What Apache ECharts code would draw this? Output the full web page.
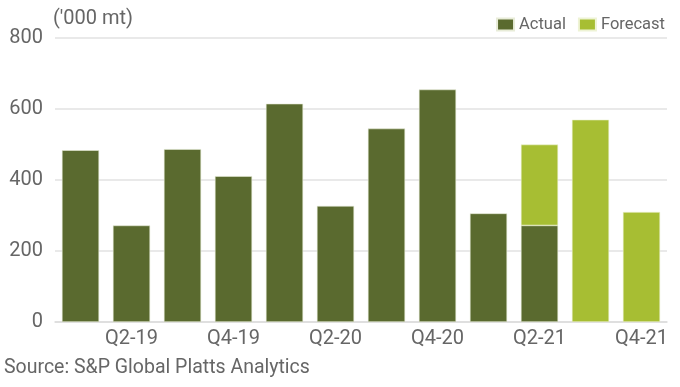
<!DOCTYPE html>
<html><head><meta charset="utf-8">
<script src="https://cdn.jsdelivr.net/npm/echarts@6/dist/echarts.min.js"></script>
<style>html,body{margin:0;padding:0;background:#fff}#c{width:680px;height:387px}</style>
</head><body><div id="c"></div>
<script>
const categories = ['Q1-19','Q2-19','Q3-19','Q4-19','Q1-20','Q2-20','Q3-20','Q4-20','Q1-21','Q2-21','Q3-21','Q4-21'];
const actual = [484, 272, 487, 411, 615, 327, 545, 655, 306, 272, null, null];
const forecastAdd = [null, null, null, null, null, null, null, null, null, 228, 570, 310];
const yTicks = [0, 200, 400, 600, 800];

const font = 'Roboto';
const chart = echarts.init(document.getElementById('c'), null, {renderer:'canvas'});
chart.setOption({
  animation: false,
  textStyle: {fontFamily: font},
  grid: {left: 55, right: 13, top: 38, bottom: 65, containLabel: false},
  legend: {
    right: 10, top: 11, itemWidth: 17, itemHeight: 12, itemGap: 12,
    icon: 'rect',
    textStyle: {color: '#666', fontSize: 16.5, fontFamily: font, padding: [0,0,0,0]},
    data: ['Actual', 'Forecast']
  },
  graphic: [
    {type: 'text', left: 53, top: 9, style: {text: "('000 mt)", fill: '#666', fontSize: 20, fontFamily: font}},
    {type: 'text', left: 4, top: 358, style: {text: 'Source: S&P Global Platts Analytics', fill: '#666', fontSize: 19.5, fontFamily: font}}
  ],
  xAxis: {
    type: 'category', data: categories,
    axisLine: {lineStyle: {color: '#dcdcdc', width: 1.5}},
    axisTick: {show: false},
    axisLabel: {interval: (i) => i % 2 === 1, color: '#666', fontSize: 20, margin: 7, fontFamily: font}
  },
  yAxis: {
    type: 'value', min: yTicks[0], max: yTicks[yTicks.length-1], interval: 200,
    axisLine: {show: false}, axisTick: {show: false},
    axisLabel: {color: '#666', fontSize: 20, margin: 12, fontFamily: font, padding: [0,0,3,0]},
    splitLine: {lineStyle: {color: '#e2e2e2', width: 1.5}}
  },
  series: [
    {name: 'Actual', type: 'bar', stack: 'a', data: actual, barCategoryGap: '27%',
     itemStyle: {color: '#5a6a2f', borderColor: '#e8ecd8', borderWidth: 0.6}},
    {name: 'Forecast', type: 'bar', stack: 'a', data: forecastAdd,
     itemStyle: {color: '#a7be33', borderColor: '#eef3d5', borderWidth: 0.6}}
  ]
});
</script></body></html>
